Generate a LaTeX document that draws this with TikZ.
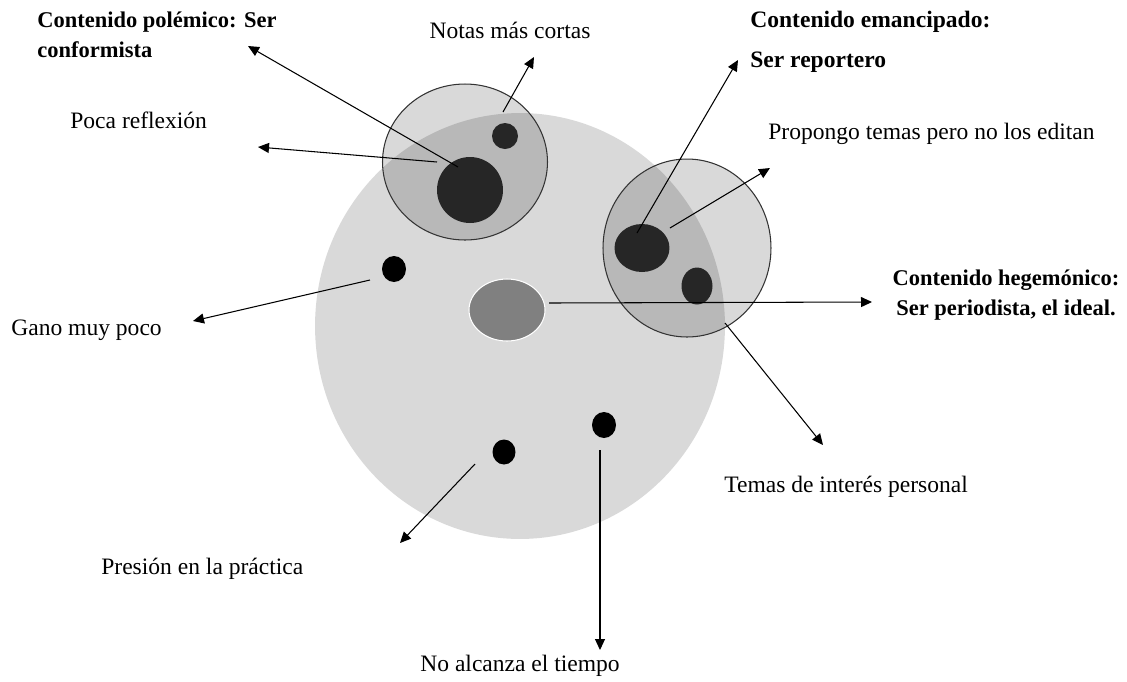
\documentclass[tikz,border=0pt]{standalone}
\usepackage{fontspec}
\setmainfont{Liberation Serif}
\usetikzlibrary{arrows.meta}
\usetikzlibrary{shapes.geometric}

\definecolor{fondo}{HTML}{D9D9D9}
\definecolor{oscuro}{HTML}{262626}

\begin{document}
\begin{tikzpicture}[x=0.02cm,y=-0.02cm,
    every node/.style={font=\fontsize{13.4}{16.5}\selectfont},
    lbl/.style={anchor=west,inner xsep=0pt},
    negrita/.style={font=\fontsize{#1}{17}\selectfont\bfseries},
    blob/.style={ellipse,inner sep=0pt,outer sep=0pt,fill=#1},
    ring/.style={ellipse,inner sep=0pt,draw=black!80,line width=0.6pt,fill=black,fill opacity=0.15},
    arr/.style={-{Triangle[length=0.22cm,width=0.2cm]},line width=0.6pt}]
  \useasboundingbox (0,0) rectangle (1127,681);
  \node[blob=fondo,minimum width=8.2cm,minimum height=8.52cm] (campo) at (520,326) {};
  \node[blob=black,minimum width=0.48cm,minimum height=0.52cm] (gano) at (394,269) {};
  \node[blob=black,minimum width=0.46cm,minimum height=0.5cm] (presion) at (504,452) {};
  \node[blob=black,minimum width=0.48cm,minimum height=0.52cm] (tiempo) at (604,425) {};
  \node[blob=black!50,draw=white,line width=0.6pt,minimum width=1.52cm,minimum height=1.24cm] (hegem) at (507,310) {};
  \node[ring,minimum width=3.3cm,minimum height=3.12cm] (polem) at (465,162) {};
  \node[ring,minimum width=3.36cm,minimum height=3.56cm] (emanc) at (687,248) {};
  \node[blob=oscuro,minimum width=1.32cm,minimum height=1.32cm] (conf) at (470,190) {};
  \node[blob=oscuro,minimum width=0.52cm,minimum height=0.52cm] (notas) at (505,136) {};
  \node[blob=oscuro,minimum width=1.1cm,minimum height=0.96cm] (report) at (642,248) {};
  \node[blob=oscuro,minimum width=0.62cm,minimum height=0.74cm] (temas) at (697,286) {};

  % textos
  \node[negrita=12.8,lbl,align=left] (tpolem) at (37,35) {Contenido polémico: Ser\\conformista};
  \node (tnotas) at (510,30) {Notas más cortas};
  \node[lbl] (tpoca) at (70,120) {Poca reflexión};
  \node[negrita=13.4,lbl] (temanc) at (750,22) {Contenido emancipado:};
  \node[negrita=13.4,lbl] (treport) at (750,62) {Ser reportero};
  \node[lbl] (tprop) at (768,134) {Propongo temas pero no los editan};
  \node[negrita=12.8,align=center] (thegem) at (1006,295) {Contenido hegemónico:\\Ser periodista, el ideal.};
  \node[lbl] (tgano) at (11,330) {Gano muy poco};
  \node[lbl] (ttemas) at (724,487) {Temas de interés personal};
  \node[lbl] (tpresion) at (101,569) {Presión en la práctica};
  \node[lbl] (ttiempo) at (420,666) {No alcanza el tiempo};

  % flechas
  \coordinate (a1) at (458,167); \coordinate (b1) at (248,46);
  \coordinate (a2) at (437,162); \coordinate (b2) at (258,147);
  \coordinate (a3) at (503,112); \coordinate (b3) at (534,57);
  \coordinate (a4) at (637,233); \coordinate (b4) at (738,60);
  \coordinate (a5) at (670,228); \coordinate (b5) at (770,168);
  \coordinate (a6) at (549,303); \coordinate (b6) at (872,302);
  \coordinate (a7) at (725,323); \coordinate (b7) at (823,445);
  \coordinate (a8) at (370,280); \coordinate (b8) at (193,321);
  \coordinate (a9) at (475,464); \coordinate (b9) at (400,543);
  \coordinate (a10) at (600,450); \coordinate (b10) at (600,650);
  \foreach \i in {1,...,10}{
    \draw[arr] (a\i) -- (b\i);
  }
\end{tikzpicture}
\end{document}
